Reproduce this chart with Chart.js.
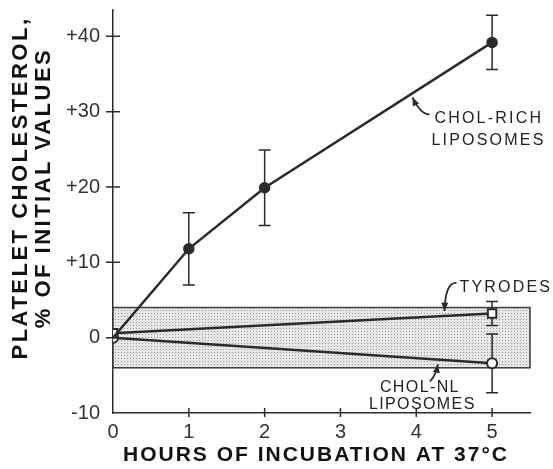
<!DOCTYPE html>
<html>
<head>
<meta charset="utf-8">
<script src="https://cdn.jsdelivr.net/npm/chart.js@4.4.1/dist/chart.umd.min.js"></script>
<style>
  html, body { margin: 0; padding: 0; background: #fff; }
  #wrap { width: 553px; height: 469px; }
</style>
</head>
<body>
<div id="wrap"><canvas id="chart"></canvas></div>
<script>
// hours of incubation and % change of platelet cholesterol
const RICH_HOURS = [0, 1, 2, 5];
const RICH_VALUES = [0, 11.8, 19.9, 39.2];
const RICH_ERR = [0, 4.8, 5.0, 3.6];

const TYR_HOURS = [0, 5];
const TYR_VALUES = [0.6, 3.2];
const TYR_ERR = [0, 1.6];

const NL_HOURS = [0, 5];
const NL_VALUES = [0, -3.4];
const NL_ERR = [0, 3.9];

// shaded normal range
const BAND_LOW = -4;
const BAND_HIGH = 4;
const BAND_END = 5.5;

const X_TICKS = [0, 1, 2, 3, 4, 5];
const Y_TICKS = [-10, 0, 10, 20, 30, 40];

const INK = '#2b2b2b';
const FONT = '"Liberation Sans", Arial, sans-serif';

const points = (xs, ys) => xs.map((x, i) => ({ x: x, y: ys[i] }));

function stipple(ctx) {
  const c = document.createElement('canvas');
  c.width = 3; c.height = 3;
  const g = c.getContext('2d');
  g.fillStyle = '#e6e6e6';
  g.fillRect(0, 0, 3, 3);
  g.fillStyle = '#9c9c9c';
  g.fillRect(1, 1, 1, 1);
  return ctx.createPattern(c, 'repeat');
}

const errorSets = [
  { xs: RICH_HOURS, ys: RICH_VALUES, err: RICH_ERR },
  { xs: TYR_HOURS, ys: TYR_VALUES, err: TYR_ERR },
  { xs: NL_HOURS, ys: NL_VALUES, err: NL_ERR }
];

const notes = [
  { lines: ['CHOL-RICH', 'LIPOSOMES'], x: 4.24, y: 29.1, gap: 22, offsets: [0, -3], spacing: '2.2px',
    arrow: [[-5, -4], [-14, -4], [-22, -21]] },
  { lines: ['TYRODES'], x: 4.57, y: 6.6, gap: 0, spacing: '2.2px',
    arrow: [[-3, -5], [-14, -6], [-15, 23]] },
  { lines: ['CHOL-NL', 'LIPOSOMES'], x: 3.52, y: -6.6, gap: 17, offsets: [0, -11], spacing: '1.4px',
    arrow: [[50, -6], [56, -12], [58, -23]] }
];

const decorations = {
  id: 'decorations',
  beforeDatasetsDraw(chart) {
    const { ctx, scales: { x, y } } = chart;
    ctx.save();
    // band
    const bx = x.getPixelForValue(0), bx2 = x.getPixelForValue(BAND_END);
    const by = y.getPixelForValue(BAND_HIGH), by2 = y.getPixelForValue(BAND_LOW);
    ctx.fillStyle = stipple(ctx);
    ctx.fillRect(bx, by, bx2 - bx, by2 - by);
    ctx.strokeStyle = '#3a3a3a';
    ctx.lineWidth = 1.5;
    ctx.strokeRect(bx, by, bx2 - bx, by2 - by);
    // error bars
    ctx.strokeStyle = INK;
    ctx.lineWidth = 1.5;
    errorSets.forEach(s => {
      s.xs.forEach((h, i) => {
        if (!s.err[i]) return;
        const px = x.getPixelForValue(h);
        const top = y.getPixelForValue(s.ys[i] + s.err[i]);
        const bot = y.getPixelForValue(s.ys[i] - s.err[i]);
        ctx.beginPath();
        ctx.moveTo(px, top); ctx.lineTo(px, bot);
        ctx.moveTo(px - 6, top); ctx.lineTo(px + 6, top);
        ctx.moveTo(px - 6, bot); ctx.lineTo(px + 6, bot);
        ctx.stroke();
      });
    });
    ctx.restore();
  },
  afterDraw(chart) {
    const { ctx, scales: { x, y } } = chart;
    ctx.save();
    // tick marks crossing the axes
    ctx.strokeStyle = INK;
    ctx.lineWidth = 1.5;
    const ax = x.getPixelForValue(0), ay = y.getPixelForValue(-10);
    ctx.beginPath();
    Y_TICKS.slice(1).forEach(v => {
      const py = y.getPixelForValue(v);
      ctx.moveTo(ax - 7, py); ctx.lineTo(ax + 7, py);
    });
    X_TICKS.slice(1).forEach(v => {
      const px = x.getPixelForValue(v);
      ctx.moveTo(px, ay - 5); ctx.lineTo(px, ay + 4);
    });
    ctx.stroke();

    // axis titles
    ctx.fillStyle = '#111';
    ctx.font = 'bold 21px ' + FONT;
    ctx.letterSpacing = '2px';
    ctx.textAlign = 'center';
    ctx.textBaseline = 'middle';
    ctx.fillText('HOURS OF INCUBATION AT 37°C', 316, 455);
    ctx.save();
    ctx.translate(21, 188);
    ctx.rotate(-Math.PI / 2);
    ctx.font = 'bold 22px ' + FONT;
    ctx.letterSpacing = '2.5px';
    ctx.fillText('PLATELET CHOLESTEROL,', 0, 0);
    ctx.fillText('% OF INITIAL VALUES', 0, 23);
    ctx.restore();

    // curve labels with arrows
    ctx.font = '16px ' + FONT;
    ctx.textAlign = 'left';
    ctx.fillStyle = '#222';
    notes.forEach(n => {
      const px = x.getPixelForValue(n.x), py = y.getPixelForValue(n.y);
      ctx.letterSpacing = n.spacing;
      n.lines.forEach((t, i) => {
        const dx = n.offsets ? n.offsets[i] : 0;
        ctx.fillText(t, px + dx, py + i * n.gap);
      });
      const [a, c, b] = n.arrow;
      ctx.strokeStyle = INK;
      ctx.lineWidth = 1.8;
      ctx.beginPath();
      ctx.moveTo(px + a[0], py + a[1]);
      ctx.quadraticCurveTo(px + c[0], py + c[1], px + b[0], py + b[1]);
      ctx.stroke();
      const ang = Math.atan2(b[1] - c[1], b[0] - c[0]);
      const hx = px + b[0], hy = py + b[1];
      ctx.beginPath();
      ctx.moveTo(hx, hy);
      ctx.lineTo(hx - 9 * Math.cos(ang - 0.4), hy - 9 * Math.sin(ang - 0.4));
      ctx.lineTo(hx - 9 * Math.cos(ang + 0.4), hy - 9 * Math.sin(ang + 0.4));
      ctx.closePath();
      ctx.fillStyle = INK;
      ctx.fill();
      ctx.fillStyle = '#222';
    });
    ctx.restore();
  }
};

new Chart(document.getElementById('chart'), {
  type: 'line',
  data: {
    datasets: [
      {
        label: 'Chol-rich liposomes',
        data: points(RICH_HOURS, RICH_VALUES),
        borderColor: INK,
        borderWidth: 2.5,
        pointRadius: [0, 4.5, 4.5, 4.5],
        pointBackgroundColor: INK,
        pointBorderColor: INK
      },
      {
        label: 'Tyrodes',
        data: points(TYR_HOURS, TYR_VALUES),
        borderColor: INK,
        borderWidth: 2.5,
        pointStyle: 'rect',
        pointRadius: 6,
        pointBorderWidth: 2,
        pointBackgroundColor: '#fff',
        pointBorderColor: INK
      },
      {
        label: 'Chol-NL liposomes',
        data: points(NL_HOURS, NL_VALUES),
        borderColor: INK,
        borderWidth: 2.5,
        pointRadius: 5,
        pointBorderWidth: 2,
        pointBackgroundColor: '#fff',
        pointBorderColor: INK
      }
    ]
  },
  options: {
    responsive: true,
    maintainAspectRatio: false,
    animation: false,
    layout: { padding: { left: 53, right: 23, top: 10, bottom: 0 } },
    plugins: {
      legend: { display: false },
      tooltip: { enabled: false }
    },
    scales: {
      x: {
        type: 'linear',
        min: 0,
        max: BAND_END,
        afterBuildTicks: s => { s.ticks = X_TICKS.map(v => ({ value: v })); },
        afterFit: s => { s.height = 56; s.paddingLeft = 0; s.paddingRight = 0; },
        grid: { display: false, drawTicks: false },
        border: { display: true, color: INK, width: 1.5 },
        ticks: {
          padding: 7,
          maxRotation: 0,
          color: '#333',
          font: { family: FONT, size: 20 }
        }
      },
      y: {
        type: 'linear',
        min: -10,
        max: 43.5,
        afterBuildTicks: s => { s.ticks = Y_TICKS.map(v => ({ value: v })); },
        afterFit: s => { s.width = 60; s.paddingTop = 0; s.paddingBottom = 0; },
        grid: { display: false, drawTicks: false },
        border: { display: true, color: INK, width: 1.5 },
        ticks: {
          padding: 13,
          color: '#333',
          font: { family: FONT, size: 20 },
          callback: v => (v > 0 ? '+' + v : String(v))
        }
      }
    }
  },
  plugins: [decorations]
});
</script>
</body>
</html>
